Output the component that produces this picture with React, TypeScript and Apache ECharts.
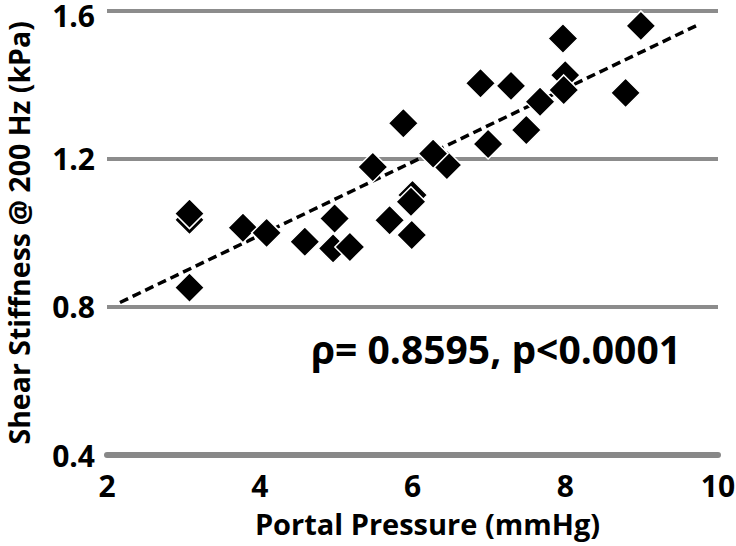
import React, { useEffect, useRef } from "react";
import * as echarts from "echarts";

const pressureX = [3.08, 3.08, 3.08, 3.78, 4.09, 4.59, 4.96, 5.18, 4.98, 5.48, 5.88, 5.70, 6.0, 5.98, 5.99, 6.45, 6.27, 6.89, 7.29, 6.99, 7.49, 7.67, 8.0, 7.98, 7.97, 8.79, 8.99];
const stiffnessY = [1.035, 1.052, 0.852, 1.014, 1.0, 0.976, 0.958, 0.962, 1.039, 1.178, 1.296, 1.034, 1.102, 1.084, 0.994, 1.183, 1.214, 1.404, 1.397, 1.24, 1.278, 1.354, 1.426, 1.386, 1.525, 1.378, 1.559];
const trendX = [2.17, 9.73];
const trendY = [0.812, 1.561];
const xTicks = [2, 4, 6, 8, 10];
const yTicks = [0.4, 0.8, 1.2, 1.6];
const annotation = "ρ= 0.8595, p<0.0001";
const xTitle = "Portal Pressure (mmHg)";
const yTitle = "Shear Stiffness @ 200 Hz (kPa)";

const FONT = "'Open Sans', 'Noto Sans', sans-serif";

export default function App() {
  const ref = useRef<HTMLDivElement>(null);
  useEffect(() => {
    if (!ref.current) return;
    const chart = echarts.init(ref.current, undefined, { renderer: "svg" });
    const points = pressureX.map((x, i) => [x, stiffnessY[i]]);
    const trend = trendX.map((x, i) => [x, trendY[i]]);
    const yMin = yTicks[0];
    const yMax = yTicks[yTicks.length - 1];
    const isMax = (v: number) => Math.abs(v - yMax) < 1e-9;
    chart.setOption({
      animation: false,
      backgroundColor: "#ffffff",
      grid: { left: 107, right: 18, top: 10.7, bottom: 91, containLabel: false, outerBoundsMode: "none" },
      xAxis: {
        type: "value",
        min: xTicks[0],
        max: xTicks[xTicks.length - 1],
        interval: 2,
        name: xTitle,
        nameLocation: "middle",
        nameGap: 54,
        nameTextStyle: { fontFamily: FONT, fontWeight: "bold", fontSize: 29, color: "#000", padding: [0, 0, 0, 30] },
        axisLine: { show: true, lineStyle: { color: "#888888", width: 6, cap: "round" } },
        axisTick: { show: false },
        splitLine: { show: false },
        axisLabel: { fontFamily: FONT, fontWeight: "bold", fontSize: 30, color: "#000", margin: 15 },
      },
      yAxis: [
        {
          type: "value",
          min: yMin,
          max: yMax,
          interval: 0.4,
          name: yTitle,
          nameLocation: "middle",
          nameGap: 74,
          nameTextStyle: { fontFamily: FONT, fontWeight: "bold", fontSize: 28.5, color: "#000" },
          axisLine: { show: false },
          axisTick: { show: false },
          splitLine: { show: true, lineStyle: { color: "#8c8c8c", width: 4 } },
          axisLabel: {
            fontFamily: FONT, fontWeight: "bold", fontSize: 30, color: "#000", margin: 12,
            formatter: (v: number) => (isMax(v) ? "" : v.toFixed(1)),
          },
        },
        {
          type: "value",
          position: "left",
          min: yMin,
          max: yMax,
          interval: 0.4,
          axisLine: { show: false },
          axisTick: { show: false },
          splitLine: { show: false },
          axisLabel: {
            fontFamily: FONT, fontWeight: "bold", fontSize: 30, color: "#000", margin: 12,
            verticalAlign: "top", lineHeight: 10,
            formatter: (v: number) => (isMax(v) ? v.toFixed(1) : ""),
          },
        },
      ],
      graphic: [
        {
          type: "text",
          left: 311,
          top: 329,
          style: { text: annotation, fontFamily: FONT, fontWeight: "bold", fontSize: 39, fill: "#000" },
        },
      ],
      series: [
        {
          type: "line",
          data: trend,
          yAxisIndex: 0,
          symbol: "none",
          z: 2,
          lineStyle: { color: "#000", width: 3.5, type: [9, 5] },
        },
        {
          type: "scatter",
          data: points,
          yAxisIndex: 0,
          symbol: "diamond",
          symbolSize: 30,
          z: 3,
          itemStyle: { color: "#000", borderColor: "#fff", borderWidth: 1.5, opacity: 1 },
        },
      ],
    });
    return () => chart.dispose();
  }, []);
  return <div ref={ref} style={{ width: 736, height: 546, position: "absolute", left: 0, top: 0 }} />;
}
